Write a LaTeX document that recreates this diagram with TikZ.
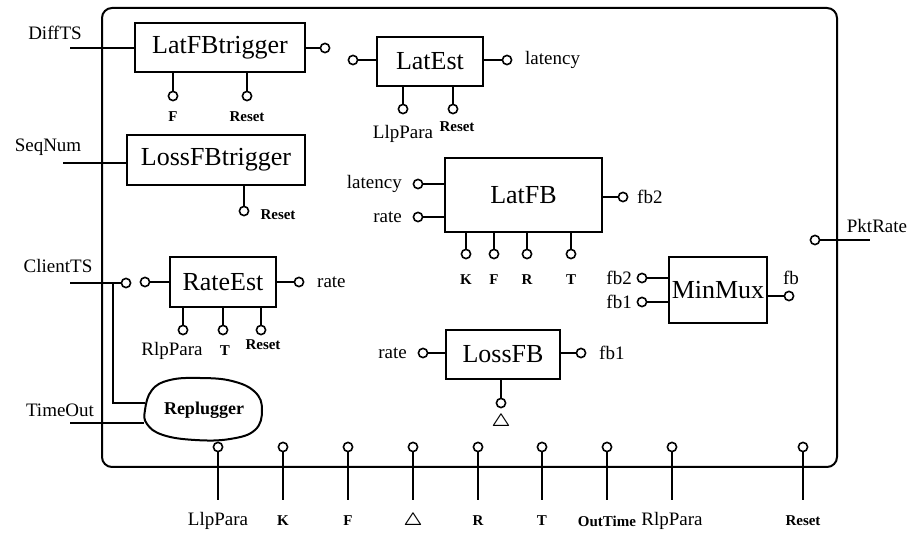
\documentclass[tikz,border=0pt]{standalone}
\usepackage{fontspec}
\setmainfont{Liberation Serif}
\usetikzlibrary{positioning,calc}

\begin{document}
\begin{tikzpicture}[x=0.5pt, y=-0.5pt, line width=0.8pt,
    blk/.style={draw, line width=1pt, inner sep=0pt, font=\fontsize{13}{15}\selectfont},
    port/.style={circle, draw, fill=white, inner sep=0pt, minimum size=4.6pt},
    sig/.style={font=\fontsize{9.5}{11}\selectfont, inner sep=1pt},
    pin/.style={font=\bfseries\fontsize{7.5}{9}\selectfont, inner sep=1pt},
    tri/.style={font=\boldmath\fontsize{9}{11}\selectfont, inner sep=1pt}]
    \useasboundingbox (0,0) rectangle (912,534);
    \draw[line width=1pt, rounded corners=5pt] (102,8) rectangle (837,467);

    \node[blk, minimum width=85pt, minimum height=24.5pt] (lfbt) at (220,47.5) {LatFBtrigger};
    \node[blk, minimum width=89pt, minimum height=25pt] (lsfbt) at (216,160) {LossFBtrigger};
    \node[blk, minimum width=53pt, minimum height=24.5pt] (latest) at (430,61.5) {LatEst};
    \node[blk, minimum width=78.5pt, minimum height=37pt] (latfb) at (523.5,195) {LatFB};
    \node[blk, minimum width=53pt, minimum height=25pt] (rateest) at (223,282) {RateEst};
    \node[blk, minimum width=57pt, minimum height=24.5pt] (lossfb) at (503,354.5) {LossFB};
    \node[blk, minimum width=49pt, minimum height=33pt] (minmux) at (718,290) {MinMux};

    \draw[line width=1pt] plot[smooth cycle, tension=0.7] coordinates {(145,410) (152,390) (170,380) (200,378) (232,381) (255,392) (262,410) (255,430) (230,439) (195,440) (163,435) (147,424)};
    \node[font=\bfseries\fontsize{9}{11}\selectfont] (rep) at (204,410) {Replugger};

    % outside inputs
    \node[sig] (difftsl) at (55,33) {DiffTS};
    \coordinate (dts) at (70,48);
    \draw (dts) -- (dts -| lfbt.west);
    \node[sig] (seqnuml) at (48,147) {SeqNum};
    \coordinate (sqn) at (63,163);
    \draw (sqn) -- (sqn -| lsfbt.west);
    \node[sig] (clienttsl) at (58,266) {ClientTS};
    \coordinate (cts) at (70,283);
    \node[port] (ctsp) at (126,283) {};
    \draw (cts) -- (ctsp);
    \coordinate (ctsd) at (113,283);
    \coordinate (repa) at (145,403);
    \draw (ctsd) |- (repa);
    \node[sig] (timeoutl) at (60,410) {TimeOut};
    \coordinate (tmo) at (70,423);
    \coordinate (repb) at (144,423);
    \draw (tmo) -- (repb);

    % LatFBtrigger
    \node[port] (lfbto) at (325,48) {};
    \draw (lfbto) -- (lfbto -| lfbt.east);
    \node[port] (lfbtf) at (173,96) {};
    \node[port] (lfbtr) at (247,96) {};
    \draw (lfbtf) -- (lfbtf |- lfbt.south) (lfbtr) -- (lfbtr |- lfbt.south);
    \node[pin] at (173,117) {F};
    \node[pin] at (247,117) {Reset};

    % LossFBtrigger
    \node[port] (lsfbtr) at (244,211) {};
    \draw (lsfbtr) -- (lsfbtr |- lsfbt.south);
    \node[pin] at (278,215) {Reset};

    % LatEst
    \node[port] (latesti) at (353,60) {};
    \node[port] (lateso) at (507,60) {};
    \draw (latesti) -- (latesti -| latest.west) (lateso) -- (lateso -| latest.east);
    \node[sig, right=5pt of lateso] {latency};
    \node[port] (latestl) at (403,109) {};
    \node[port] (latestr) at (453,109) {};
    \draw (latestl) -- (latestl |- latest.south) (latestr) -- (latestr |- latest.south);
    \node[sig] at (403,134) {LlpPara};
    \node[pin] at (457,127) {Reset};

    % LatFB
    \node[port] (latfbl) at (418,184) {};
    \node[port] (latfbr) at (418,217) {};
    \node[port] (latfbo) at (623,197) {};
    \draw (latfbl) -- (latfbl -| latfb.west) (latfbr) -- (latfbr -| latfb.west) (latfbo) -- (latfbo -| latfb.east);
    \node[sig, left=4pt of latfbl] {latency};
    \node[sig, left=4pt of latfbr] {rate};
    \node[sig, right=3pt of latfbo] {fb2};
    \foreach \px/\pt in {466/K, 494/F, 527/R, 571/T} {
        \node[port] (latfb\pt) at (\px,254) {};
        \draw (latfb\pt) -- (latfb\pt |- latfb.south);
        \node[pin] at (\px,280) {\pt};
    }

    % RateEst
    \node[port] (rateesti) at (145,282) {};
    \node[port] (rateesto) at (299,282) {};
    \draw (rateesti) -- (rateesti -| rateest.west) (rateesto) -- (rateesto -| rateest.east);
    \node[sig, right=5pt of rateesto] {rate};
    \foreach \px/\pn in {183/a, 223/b, 261/c} {
        \node[port] (rateest\pn) at (\px,330) {};
        \draw (rateest\pn) -- (rateest\pn |- rateest.south);
    }
    \node[sig] at (172,351) {RlpPara};
    \node[pin] at (225,351) {T};
    \node[pin] at (263,345) {Reset};

    % LossFB
    \node[port] (lossfbi) at (423,353) {};
    \node[port] (lossfbo) at (581,353) {};
    \node[port] (lossfbd) at (501,403) {};
    \draw (lossfbi) -- (lossfbi -| lossfb.west) (lossfbo) -- (lossfbo -| lossfb.east) (lossfbd) -- (lossfbd |- lossfb.south);
    \node[sig, left=4pt of lossfbi] {rate};
    \node[sig, right=5pt of lossfbo] {fb1};
    \node[tri] at (501,422) {$\triangle$};

    % MinMux
    \node[port] (minmuxa) at (642,278) {};
    \node[port] (minmuxb) at (642,302) {};
    \node[port] (minmuxo) at (789,296) {};
    \draw (minmuxa) -- (minmuxa -| minmux.west) (minmuxb) -- (minmuxb -| minmux.west) (minmuxo) -- (minmuxo -| minmux.east);
    \node[sig, left=1pt of minmuxa] {fb2};
    \node[sig, left=1pt of minmuxb] {fb1};
    \node[sig] at (791,278) {fb};

    % PktRate
    \node[port] (pkt) at (815,240) {};
    \coordinate (pkte) at (870,240);
    \draw (pkt) -- (pkte);
    \node[sig] at (877,226) {PktRate};

    % parameters along the bottom
    \foreach \px/\pl/\ps in {218/LlpPara/sig, 283/K/pin, 348/F/pin, 413/{$\triangle$}/tri, 478/R/pin, 542/T/pin, 607/OutTime/pin, 672/RlpPara/sig, 803/Reset/pin} {
        \node[port] (bp\px) at (\px,447) {};
        \coordinate (bq\px) at (\px,500);
        \draw (bp\px) -- (bq\px);
        \node[\ps] at (\px,521) {\pl};
    }
\end{tikzpicture}
\end{document}
